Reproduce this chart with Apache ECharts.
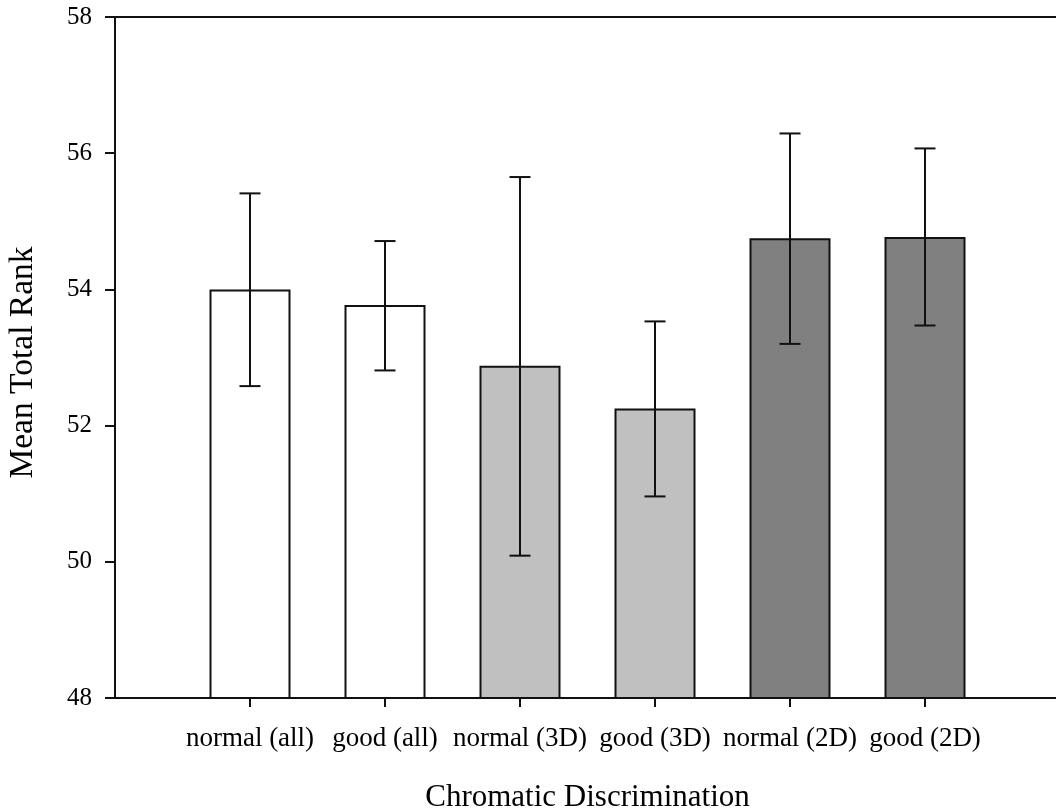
<!DOCTYPE html>
<html>
<head>
<meta charset="utf-8">
<script src="https://cdn.jsdelivr.net/npm/echarts@6/dist/echarts.min.js"></script>
<style>
  html, body { margin: 0; padding: 0; background: #fff; }
  #chart { width: 1056px; height: 809px; }
</style>
</head>
<body>
<div id="chart"></div>
<script>
// ---- data ----
const categories = ['normal (all)', 'good (all)', 'normal (3D)', 'good (3D)', 'normal (2D)', 'good (2D)'];
const means = [54.00, 53.77, 52.88, 52.25, 54.75, 54.77];
const errLow = [52.58, 52.81, 50.09, 50.96, 53.20, 53.47];
const errHigh = [55.41, 54.71, 55.65, 53.53, 56.29, 56.07];
const yTicks = [48, 50, 52, 54, 56, 58];

// ---- styles ----
const barFills = ['#ffffff', '#ffffff', '#c0c0c0', '#c0c0c0', '#808080', '#808080'];
const FONT = 'Liberation Serif';
const INK = '#111111';

const positions = categories.map((c, i) => i + 1);

const barData = means.map((v, i) => ({
  value: [positions[i], v],
  itemStyle: { color: barFills[i] }
}));
const errData = means.map((v, i) => [positions[i], errLow[i], errHigh[i]]);

const chart = echarts.init(document.getElementById('chart'), null, { renderer: 'canvas' });

chart.setOption({
  animation: false,
  backgroundColor: '#ffffff',
  grid: { left: 115, right: -4, top: 17, bottom: 111, containLabel: false, outerBoundsMode: 'none' },
  xAxis: [
    {
      type: 'value',
      min: 0,
      max: 7,
      interval: 1,
      splitLine: { show: false },
      axisLine: { show: true, lineStyle: { color: INK, width: 2 } },
      axisTick: { show: true, customValues: positions, length: 9, lineStyle: { color: INK, width: 2 } },
      axisLabel: {
        show: true,
        customValues: positions,
        formatter: (v) => categories[Math.round(v) - 1] || '',
        fontFamily: FONT,
        fontSize: 27,
        color: '#000',
        margin: 27
      },
      name: 'Chromatic Discrimination',
      nameLocation: 'middle',
      nameGap: 84,
      nameTextStyle: { fontFamily: FONT, fontSize: 31, color: '#000' }
    },
    {
      type: 'value',
      position: 'top',
      min: 0,
      max: 7,
      splitLine: { show: false },
      axisLine: { show: true, lineStyle: { color: INK, width: 2 } },
      axisTick: { show: false },
      axisLabel: { show: false }
    }
  ],
  yAxis: {
    type: 'value',
    min: yTicks[0],
    max: yTicks[yTicks.length - 1],
    interval: yTicks[1] - yTicks[0],
    splitLine: { show: false },
    axisLine: { show: true, lineStyle: { color: INK, width: 2 } },
    axisTick: { show: true, length: 10, lineStyle: { color: INK, width: 2 } },
    axisLabel: { fontFamily: FONT, fontSize: 25, color: '#000', margin: 23 },
    name: 'Mean Total Rank',
    nameLocation: 'middle',
    nameGap: 75,
    nameTextStyle: { fontFamily: FONT, fontSize: 33.5, color: '#000', padding: [0, 10, 0, 0] }
  },
  series: [
    {
      type: 'bar',
      data: barData,
      barWidth: 81,
      itemStyle: { borderColor: INK, borderWidth: 2 },
      z: 2
    },
    {
      type: 'custom',
      data: errData,
      z: 3,
      renderItem: function (params, api) {
        const x = api.value(0);
        const lo = api.coord([x, api.value(1)]);
        const hi = api.coord([x, api.value(2)]);
        const hw = 10.5;
        const style = { stroke: INK, lineWidth: 2 };
        return {
          type: 'group',
          children: [
            { type: 'line', shape: { x1: lo[0], y1: lo[1], x2: hi[0], y2: hi[1] }, style },
            { type: 'line', shape: { x1: hi[0] - hw, y1: hi[1], x2: hi[0] + hw, y2: hi[1] }, style },
            { type: 'line', shape: { x1: lo[0] - hw, y1: lo[1], x2: lo[0] + hw, y2: lo[1] }, style }
          ]
        };
      }
    }
  ]
});
</script>
</body>
</html>
